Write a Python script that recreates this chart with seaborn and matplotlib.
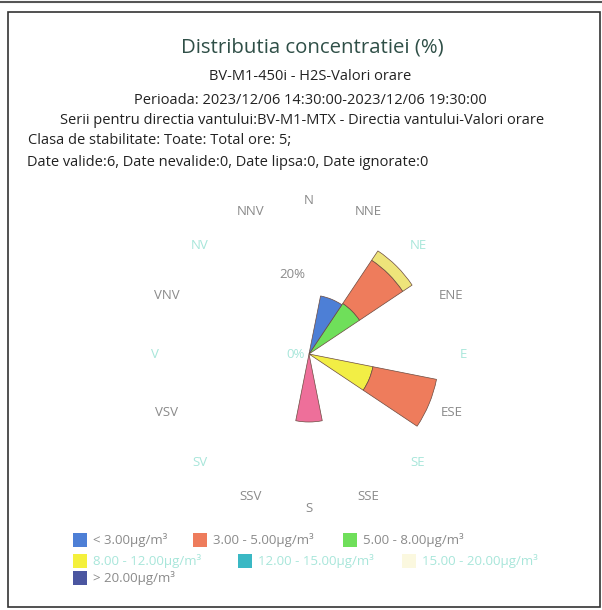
import numpy as np
import matplotlib.pyplot as plt
from matplotlib.patches import Rectangle
from matplotlib.lines import Line2D
import pandas as pd
import seaborn as sns

sns.set_style('white')
plt.rcParams['font.family'] = ['Open Sans', 'DejaVu Sans']

directions = ['N', 'NNE', 'NE', 'ENE', 'E', 'ESE', 'SE', 'SSE',
              'S', 'SSV', 'SV', 'VSV', 'V', 'VNV', 'NV', 'NNV']
classes = ['< 3.00µg/m³', '3.00 - 5.00µg/m³', '5.00 - 8.00µg/m³',
           '8.00 - 12.00µg/m³', '12.00 - 15.00µg/m³', '15.00 - 20.00µg/m³',
           '> 20.00µg/m³']

# frequency (%) per direction, N .. NNV, one list per class
lt_3 = [0, 14.8, 0, 0, 0, 0, 0, 0, 0, 0, 0, 0, 0, 0, 0, 0]
c_3_5 = [0, 0, 13.0, 0, 0, 16.2, 0, 0, 0, 0, 0, 0, 0, 0, 0, 0]
c_5_8 = [0, 0, 15.2, 0, 0, 0, 0, 0, 0, 0, 0, 0, 0, 0, 0, 0]
c_8_12 = [0, 0, 0, 0, 0, 16.3, 0, 0, 0, 0, 0, 0, 0, 0, 0, 0]
c_12_15 = [0] * 16
c_15_20 = [0, 0, 2.8, 0, 0, 0, 0, 0, 0, 0, 0, 0, 0, 0, 0, 0]
gt_20 = [0, 0, 0, 0, 0, 0, 0, 0, 17.0, 0, 0, 0, 0, 0, 0, 0]

legend_colors = ['#4d7fd6', '#ee7c5c', '#6fdf5a', '#f4f03c', '#3ab8c4', '#fbf8df', '#4b56a0']
wedge_colors = ['#4d7fd6', '#ee7c5c', '#6fdf5a', '#f2ee45', '#3ab8c4', '#eee47a', '#ee6f9a']

df = pd.DataFrame({'<3': lt_3, '3-5': c_3_5, '5-8': c_5_8, '8-12': c_8_12,
                   '12-15': c_12_15, '15-20': c_15_20, '>20': gt_20},
                  index=directions)
keys = list(df.columns)
stack_order = ['>20', '8-12', '5-8', '3-5', '15-20', '12-15', '<3']

W, H = 602, 610
fig = plt.figure(figsize=(W / 100, H / 100), dpi=100)
cx, cy, R = 309, 354, 140
ax = fig.add_axes([(cx - R) / W, (H - cy - R) / H, 2 * R / W, 2 * R / H], projection='polar')
ax.set_theta_zero_location('N')
ax.set_theta_direction(-1)
ax.set_ylim(0, 35)
ax.grid(False)
ax.set_xticks([])
ax.set_yticks([])
ax.spines['polar'].set_visible(False)
ax.patch.set_alpha(0)

theta = np.radians(np.arange(16) * 22.5)
width = np.radians(22.5)
bottom = np.zeros(16)
for k in stack_order:
    vals = df[k].values
    i = keys.index(k)
    nz = vals > 0
    if nz.any():
        ax.bar(theta[nz], vals[nz], width=width, bottom=bottom[nz], color=wedge_colors[i],
               edgecolor='#6b4a3f', linewidth=0.5)
    bottom = bottom + vals

cyan_labels = {'NE', 'E', 'SE', 'SV', 'V', 'NV'}
for t, d in zip(theta, directions):
    ax.text(t, 38.5, d, ha='center', va='center', fontsize=9.5,
            color='#a8e6da' if d in cyan_labels else '#8a8a8a')

ax.annotate('20%', xy=(0, 20), xytext=(-3, 0), textcoords='offset points',
            ha='right', va='center', fontsize=9.5, color='#8a8a8a')
ax.annotate('0%', xy=(0, 0), xytext=(-3, 0), textcoords='offset points',
            ha='right', va='center', fontsize=9.5, color='#a8e6da')


def fx(x):
    return x / W


def fy(y):
    return 1 - y / H


fig.text(fx(312), fy(48), 'Distributia concentratiei (%)', ha='center', va='center',
         fontsize=14.7, color='#2f4f47')
fig.text(fx(310), fy(77), 'BV-M1-450i - H2S-Valori orare', ha='center', va='center',
         fontsize=10.5, color='#222222')
fig.text(fx(310), fy(100), 'Perioada: 2023/12/06 14:30:00-2023/12/06 19:30:00',
         ha='center', va='center', fontsize=10.5, color='#222222')
fig.text(fx(302), fy(121), 'Serii pentru directia vantului:BV-M1-MTX - Directia vantului-Valori orare',
         ha='center', va='center', fontsize=10.5, color='#222222')
fig.text(fx(28), fy(141), 'Clasa de stabilitate: Toate: Total ore: 5;',
         ha='left', va='center', fontsize=10.5, color='#222222')
fig.text(fx(27), fy(163), 'Date valide:6, Date nevalide:0, Date lipsa:0, Date ignorate:0',
         ha='left', va='center', fontsize=10.5, color='#222222')

# legend (manual flow layout like the original)
leg_pos = [(73, 540), (193, 540), (343, 540), (73, 561), (238, 561), (402, 561), (73, 578)]
leg_text = ['#8a8a8a', '#8a8a8a', '#8a8a8a', '#a8e6da', '#a8e6da', '#a8e6da', '#8a8a8a']
sq = 14
for (x, y), lab, c, tc in zip(leg_pos, classes, legend_colors, leg_text):
    fig.add_artist(Rectangle((fx(x), fy(y + sq / 2)), sq / W, sq / H,
                             transform=fig.transFigure, facecolor=c, edgecolor='none'))
    fig.text(fx(x + sq + 6), fy(y), lab, ha='left', va='center', fontsize=9.5, color=tc)

# page frame from the scan
fig.add_artist(Rectangle((fx(8), fy(607)), (600 - 8) / W, (607 - 12) / H,
                         transform=fig.transFigure, fill=False, edgecolor='#333333', linewidth=1.2))
fig.add_artist(Line2D([0, 1], [fy(2), fy(2)], transform=fig.transFigure,
                      color='#555555', linewidth=1.5))

fig.savefig('out.png', dpi=100)
